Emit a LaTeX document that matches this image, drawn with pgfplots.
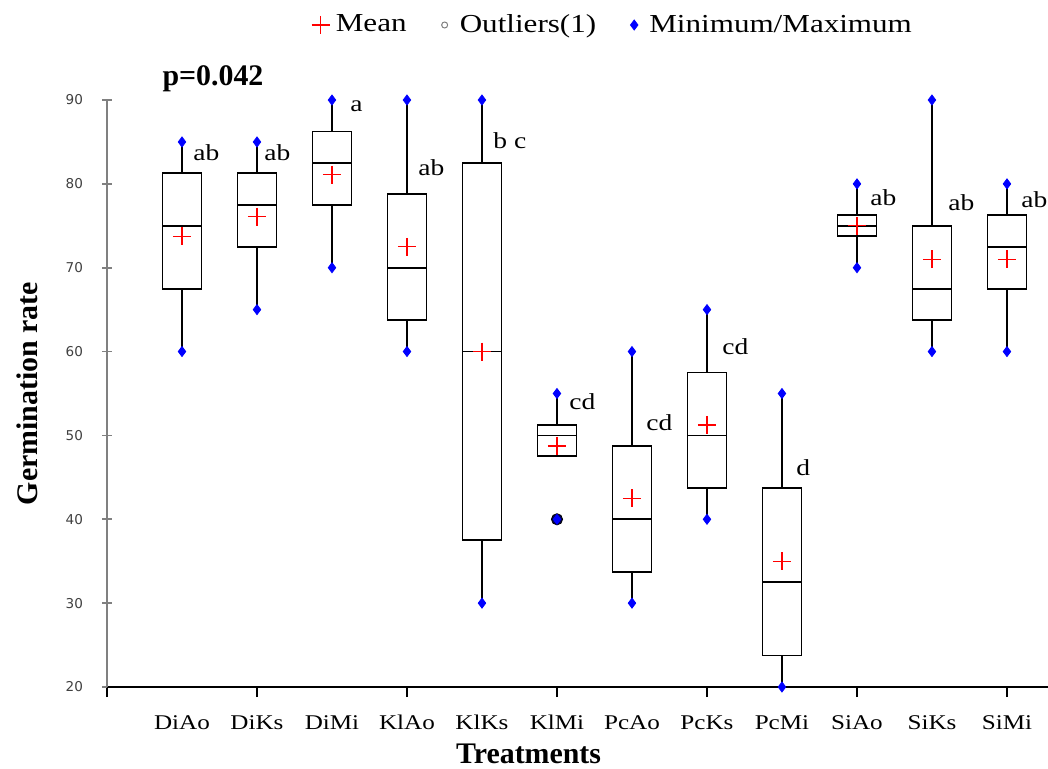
\documentclass[border=0pt]{standalone}
\usepackage{fontspec}
\setmainfont{Liberation Serif}[FakeStretch=1.2]
\newfontfamily\labfont{Liberation Serif}
\newfontfamily\tickfont{DejaVu Sans}
\usepackage{pgfplots}
\pgfplotsset{compat=1.18}
\usepgfplotslibrary{statistics}
\definecolor{ticknum}{HTML}{404040}
\definecolor{outl}{HTML}{000050}

\begin{document}
\begin{tikzpicture}
\begin{axis}[
  scale only axis, width=470.5bp, height=293.5bp,
  xmin=-1, xmax=11.547, ymin=20, ymax=90,
  clip=false,
  axis x line*=bottom, axis y line*=left,
  x axis line style={black, line width=1bp, -},
  y axis line style={gray, line width=1bp, -},
  tick align=outside,
  major tick length=5bp,
  xtick={-1,1,3,5,7,9,11}, xticklabels={},
  x tick style={black, line width=0.8bp},
  extra x ticks={0,1,2,3,4,5,6,7,8,9,10,11},
  extra x tick labels={DiAo,DiKs,DiMi,KlAo,KlKs,KlMi,PcAo,PcKs,PcMi,SiAo,SiKs,SiMi},
  extra x tick style={major tick length=0pt,
    tick label style={anchor=base, yshift=-21bp, font=\fontsize{10.5}{12}\selectfont}},
  ytick={20,30,...,90},
  y tick style={gray, line width=0.8bp, xshift=2.5bp},
  yticklabel style={font=\tickfont\fontsize{6.8}{8}\selectfont, text=ticknum, anchor=east, xshift=-3.5bp},
  /pgf/number format/assume math mode=true,
  xlabel={\labfont\bfseries Treatments},
  ylabel={\labfont\bfseries Germination rate},
  every axis x label/.style={at={(rel axis cs:0.448,0)}, anchor=center, yshift=-33.5bp, font=\fontsize{15}{18}\selectfont},
  every axis y label/.style={at={(rel axis cs:0,0.5)}, anchor=center, rotate=90, yshift=40bp, font=\fontsize{15}{18}\selectfont},
  boxplot/draw direction=y,
  boxplot/box extend=0.52,
  boxplot/whisker extend=0,
  legend columns=3,
  legend style={at={(0.538,1)}, anchor=center, yshift=37.5bp, draw=none, fill=none,
    font=\fontsize{13}{15}\selectfont,
    /tikz/every even column/.append style={column sep=12bp}},
  legend image code/.code={\draw[#1] plot coordinates {(0.17cm,0cm)}; \path (0cm,0cm) (0.36cm,0cm);},
]
\coordinate (sw) at (rel axis cs:0,0);

\addplot[black, line width=0.9bp, forget plot, boxplot prepared={lower whisker=60, lower quartile=67.5, median=75, upper quartile=81.25, upper whisker=85, draw position=0}] coordinates {};
\addplot[black, line width=0.9bp, forget plot, boxplot prepared={lower whisker=65, lower quartile=72.5, median=77.5, upper quartile=81.25, upper whisker=85, draw position=1}] coordinates {};
\addplot[black, line width=0.9bp, forget plot, boxplot prepared={lower whisker=70, lower quartile=77.5, median=82.5, upper quartile=86.25, upper whisker=90, draw position=2}] coordinates {};
\addplot[black, line width=0.9bp, forget plot, boxplot prepared={lower whisker=60, lower quartile=63.75, median=70, upper quartile=78.75, upper whisker=90, draw position=3}] coordinates {};
\addplot[black, line width=0.9bp, forget plot, boxplot prepared={lower whisker=30, lower quartile=37.5, median=60, upper quartile=82.5, upper whisker=90, draw position=4}] coordinates {};
\addplot[black, line width=0.9bp, forget plot, boxplot prepared={lower whisker=47.5, lower quartile=47.5, median=50, upper quartile=51.25, upper whisker=55, draw position=5}] coordinates {};
\addplot[black, line width=0.9bp, forget plot, boxplot prepared={lower whisker=30, lower quartile=33.75, median=40, upper quartile=48.75, upper whisker=60, draw position=6}] coordinates {};
\addplot[black, line width=0.9bp, forget plot, boxplot prepared={lower whisker=40, lower quartile=43.75, median=50, upper quartile=57.5, upper whisker=65, draw position=7}] coordinates {};
\addplot[black, line width=0.9bp, forget plot, boxplot prepared={lower whisker=20, lower quartile=23.75, median=32.5, upper quartile=43.75, upper whisker=55, draw position=8}] coordinates {};
\addplot[black, line width=0.9bp, forget plot, boxplot prepared={lower whisker=70, lower quartile=73.75, median=75, upper quartile=76.25, upper whisker=80, draw position=9}] coordinates {};
\addplot[black, line width=0.9bp, forget plot, boxplot prepared={lower whisker=60, lower quartile=63.75, median=67.5, upper quartile=75, upper whisker=90, draw position=10}] coordinates {};
\addplot[black, line width=0.9bp, forget plot, boxplot prepared={lower whisker=60, lower quartile=67.5, median=72.5, upper quartile=76.25, upper whisker=80, draw position=11}] coordinates {};

% means
\addplot[only marks, mark=+, mark size=4.5bp, red, mark options={line width=0.7bp}]
  coordinates {(0,73.75) (1,76.1) (2,81.1) (3,72.5) (4,60) (5,48.75) (6,42.5) (7,51.25) (8,35) (9,75) (10,71) (11,71)};
\addlegendentry{Mean}
\addlegendimage{only marks, mark=o, mark size=1.5bp, gray, mark options={line width=0.5bp}}
\addlegendentry{Outliers(1)}

% outlier
\addplot[only marks, mark=*, mark size=2.8bp, black, mark options={fill=outl}, forget plot]
  coordinates {(5,40)};

% minimum / maximum
\addplot[only marks, mark=diamond*, mark size=2.5bp, blue, mark options={fill=blue, draw=blue}]
  coordinates {(0,60) (0,85) (1,65) (1,85) (2,70) (2,90) (3,60) (3,90) (4,30) (4,90) (5,40) (5,55)
               (6,30) (6,60) (7,40) (7,65) (8,20) (8,55) (9,70) (9,80) (10,60) (10,90) (11,60) (11,80)};
\addlegendentry{Minimum/Maximum}

% group letters
\begin{scope}[every node/.style={anchor=west, inner sep=0pt, font=\fontsize{11.5}{13}\selectfont}]
\node at (axis cs:0.147,83.7) {ab};
\node at (axis cs:1.093,83.7) {ab};
\node at (axis cs:2.24,89.2) {a};
\node at (axis cs:3.147,81.9) {ab};
\node at (axis cs:4.147,85.2) {b c};
\node at (axis cs:5.16,54.0) {cd};
\node at (axis cs:6.187,51.5) {cd};
\node at (axis cs:7.2,60.6) {cd};
\node at (axis cs:8.187,46.1) {d};
\node at (axis cs:9.173,78.3) {ab};
\node at (axis cs:10.213,77.7) {ab};
\node at (axis cs:11.187,78.1) {ab};
\end{scope}
\node[font=\labfont\bfseries\fontsize{15}{18}\selectfont] at (axis cs:0.413,92.5) {p=0.042};
\end{axis}
\pgfresetboundingbox
\path (sw) ++(-53.5bp,-41bp) rectangle ++(524bp,384.5bp);
\end{tikzpicture}
\end{document}
